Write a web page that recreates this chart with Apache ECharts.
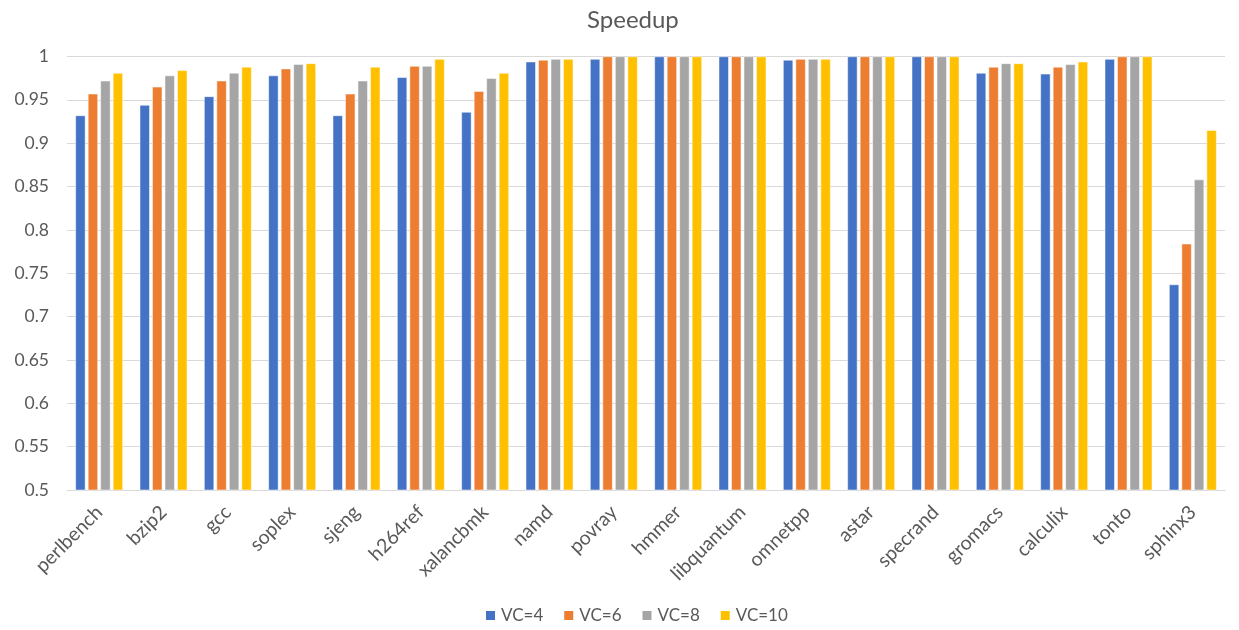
<!DOCTYPE html>
<html>
<head>
<meta charset="utf-8">
<script src="https://cdn.jsdelivr.net/npm/echarts@6/dist/echarts.min.js"></script>
<style>
  html, body { margin: 0; padding: 0; background: #fff; }
  #chart { width: 1239px; height: 630px; }
</style>
</head>
<body>
<div id="chart"></div>
<script>
const benchmarks = ['perlbench', 'bzip2', 'gcc', 'soplex', 'sjeng', 'h264ref', 'xalancbmk', 'namd', 'povray',
  'hmmer', 'libquantum', 'omnetpp', 'astar', 'specrand', 'gromacs', 'calculix', 'tonto', 'sphinx3'];

const vc4  = [0.932, 0.944, 0.954, 0.978, 0.932, 0.976, 0.936, 0.994, 0.997, 1.0, 1.0, 0.996, 1.0, 1.0, 0.981, 0.980, 0.997, 0.737];
const vc6  = [0.957, 0.965, 0.972, 0.986, 0.957, 0.989, 0.960, 0.996, 1.0, 1.0, 1.0, 0.997, 1.0, 1.0, 0.988, 0.988, 1.0, 0.784];
const vc8  = [0.972, 0.978, 0.981, 0.991, 0.972, 0.989, 0.975, 0.997, 1.0, 1.0, 1.0, 0.997, 1.0, 1.0, 0.992, 0.991, 1.0, 0.858];
const vc10 = [0.981, 0.984, 0.988, 0.992, 0.988, 0.997, 0.981, 0.997, 1.0, 1.0, 1.0, 0.997, 1.0, 1.0, 0.992, 0.994, 1.0, 0.915];

const seriesNames = ['VC=4', 'VC=6', 'VC=8', 'VC=10'];
const seriesColors = ['#4472C4', '#ED7D31', '#A5A5A5', '#FFC000'];
const seriesValues = [vc4, vc6, vc8, vc10];

const FONT = 'Lato';
const TEXT = '#595959';

const chart = echarts.init(document.getElementById('chart'));
chart.setOption({
  animation: false,
  title: {
    text: 'Speedup',
    left: 582,
    top: 3,
    textStyle: { fontFamily: FONT, fontSize: 24, fontWeight: 'normal', color: TEXT }
  },
  legend: {
    bottom: 1,
    left: 479,
    icon: 'rect',
    itemWidth: 11,
    itemHeight: 11,
    itemGap: 19,
    textStyle: { fontFamily: FONT, fontSize: 17, color: TEXT },
    data: seriesNames
  },
  grid: { left: 67, right: 14, top: 56.5, bottom: 140, containLabel: false },
  xAxis: {
    type: 'category',
    data: benchmarks,
    axisLine: { lineStyle: { color: '#D9D9D9', width: 1 } },
    axisTick: { show: false },
    axisLabel: {
      rotate: 45,
      fontFamily: FONT,
      fontSize: 19.5,
      color: TEXT,
      margin: 19,
      interval: 0
    }
  },
  yAxis: {
    type: 'value',
    min: 0.5,
    max: 1,
    interval: 0.05,
    axisLine: { show: false },
    axisTick: { show: false },
    splitLine: { lineStyle: { color: '#D9D9D9', width: 1 } },
    axisLabel: {
      fontFamily: FONT,
      fontSize: 17.5,
      color: TEXT,
      margin: 18,
      formatter: v => String(parseFloat(v.toFixed(2)))
    }
  },
  series: seriesValues.map((vals, i) => ({
    name: seriesNames[i],
    type: 'bar',
    data: vals,
    barWidth: 10,
    barGap: '25%',
    itemStyle: { color: seriesColors[i], borderColor: '#ffffff', borderWidth: 0.5 }
  }))
});
</script>
</body>
</html>
